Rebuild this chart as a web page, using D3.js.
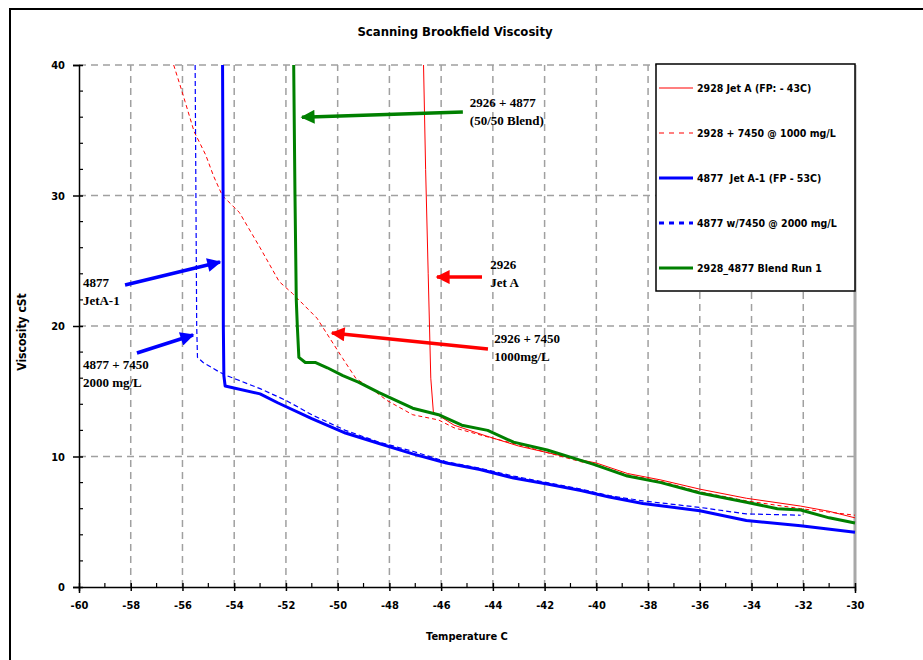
<!DOCTYPE html>
<html>
<head>
<meta charset="utf-8">
<script src="https://cdn.jsdelivr.net/npm/d3@7"></script>
<style>
  body { margin: 0; background: #fff; }
  svg text { font-family: "Liberation Sans Narrow", "Arial Narrow", "DejaVu Sans Condensed", sans-serif; font-weight: bold; }
  .note { font-family: "Liberation Serif", "Times New Roman", serif !important; font-size: 13px; }
  .lgtext { white-space: pre; }
</style>
</head>
<body>
<svg width="923" height="660"></svg>
<script>
// ---- data (temperature C, viscosity cSt) ----
var jetA_T = [-46.68, -46.6, -46.5, -46.4, -46.3, -45.5, -44.3, -43.0, -41.9, -41.0, -40.0, -38.8, -37.5, -36.0, -34.2, -32.1, -31.0, -30.0];
var jetA_V = [40, 32, 24, 16, 13.4, 12.4, 11.6, 10.8, 10.3, 9.9, 9.5, 8.7, 8.2, 7.5, 6.8, 6.2, 5.8, 5.3];

var jetA7450_T = [-56.34, -56.1, -55.9, -55.55, -55.1, -54.8, -54.46, -53.8, -53.0, -52.26, -51.75, -50.8, -49.8, -49.3, -48.5, -48.1, -47.1, -46.1, -45.5, -44.2, -43.0, -41.9, -40.6, -40.1, -38.8, -37.5, -36.0, -34.2, -32.1, -30.0];
var jetA7450_V = [40, 38.5, 37.2, 34.9, 33.1, 31.5, 30.0, 28.7, 26.0, 23.4, 22.5, 20.6, 17.5, 16.0, 14.9, 14.3, 13.2, 12.8, 12.2, 11.5, 10.9, 10.3, 9.6, 9.4, 8.6, 8.1, 7.3, 6.6, 6.0, 5.5];

var jetA1_T = [-54.45, -54.43, -54.42, -54.4, -54.35, -53.0, -52.3, -51.0, -49.7, -48.4, -47.1, -45.8, -44.5, -43.2, -41.9, -40.6, -39.5, -38.2, -36.0, -34.2, -32.1, -30.0];
var jetA1_V = [40, 30, 20, 16.2, 15.4, 14.8, 14.1, 12.9, 11.8, 11.0, 10.2, 9.5, 9.0, 8.35, 7.9, 7.4, 6.9, 6.4, 5.85, 5.1, 4.7, 4.2];

var jetA1_7450_T = [-55.51, -55.48, -55.45, -55.42, -55.2, -54.6, -54.3, -53.9, -53.0, -52.0, -51.0, -49.7, -48.4, -47.1, -45.8, -44.5, -43.2, -41.9, -40.6, -39.5, -38.2, -36.0, -34.2, -32.1];
var jetA1_7450_V = [40, 30, 20, 17.6, 17.2, 16.5, 16.2, 15.9, 15.2, 14.3, 13.2, 12.0, 11.1, 10.4, 9.6, 9.1, 8.5, 8.0, 7.5, 7.0, 6.6, 6.1, 5.6, 5.5];

var blend_T = [-51.7, -51.65, -51.6, -51.56, -51.5, -51.25, -50.85, -50.4, -49.8, -49.2, -48.4, -47.1, -46.1, -45.2, -44.2, -43.2, -41.9, -40.6, -40.1, -38.8, -37.5, -36.0, -34.2, -33.0, -32.1, -31.0, -30.0];
var blend_V = [40, 30, 22, 20, 17.6, 17.2, 17.2, 16.8, 16.2, 15.7, 14.9, 13.7, 13.2, 12.4, 12.0, 11.1, 10.5, 9.7, 9.4, 8.5, 8.0, 7.2, 6.5, 6.0, 5.9, 5.3, 4.9];

var xTicks = d3.range(-60, -29, 2);
var yTicks = [0, 10, 20, 30, 40];

var seriesNames = ["2928 Jet A (FP: - 43C)", "2928 + 7450 @ 1000 mg/L", "4877  Jet A-1 (FP - 53C)", "4877 w/7450 @ 2000 mg/L", "2928_4877 Blend Run 1"];
var seriesColors = ["#ff0000", "#ff0000", "#0000ff", "#0000ff", "#008000"];
var seriesWidths = [1, 1, 3, 1.2, 3];
var seriesDash = [null, "4,3", null, "5,3", null];

// annotation text and arrows (data units)
var noteLines = [["2926 + 4877", "(50/50 Blend)"], ["2926", "Jet A"], ["2926 + 7450", "1000mg/L"], ["4877", "JetA-1"], ["4877 + 7450", "2000 mg/L"]];
var noteAt = [[-44.89, 36.8], [-44.1, 24.4], [-43.95, 18.7], [-59.85, 23.0], [-59.85, 16.7]];
var arrowFrom = [[-45.16, 36.4], [-44.42, 23.75], [-44.19, 18.24], [-58.22, 23.14], [-57.76, 17.93]];
var arrowTo = [[-51.38, 36.0], [-46.16, 23.75], [-50.22, 19.46], [-54.55, 24.9], [-55.59, 19.31]];
var noteColors = ["#008000", "#ff0000", "#ff0000", "#0000ff", "#0000ff"];

var svg = d3.select("svg");
var x = d3.scaleLinear().domain([-60, -30]).range([79, 855]);
var y = d3.scaleLinear().domain([0, 40]).range([587, 65]);

// outer frame
svg.append("path").attr("d", "M10,660 V9 H923").attr("fill", "none").attr("stroke", "#000").attr("stroke-width", 2);

// title
svg.append("text").attr("x", 455).attr("y", 36).attr("text-anchor", "middle").style("font-size", "13px").text("Scanning Brookfield Viscosity");

// grid
var grid = svg.append("g").attr("stroke", "#a0a0a0").attr("stroke-width", 1.5).attr("stroke-dasharray", "7,5");
grid.selectAll(".vg").data(xTicks.slice(1, -1)).enter().append("line")
    .attr("x1", function(d) { return x(d); }).attr("x2", function(d) { return x(d); })
    .attr("y1", y(0)).attr("y2", y(40));
grid.selectAll(".hg").data(yTicks.slice(1)).enter().append("line")
    .attr("x1", x(-60)).attr("x2", x(-30))
    .attr("y1", function(d) { return y(d); }).attr("y2", function(d) { return y(d); });
svg.append("line").attr("x1", x(-30)).attr("x2", x(-30)).attr("y1", y(40)).attr("y2", y(0))
    .attr("stroke", "#a8a8a8").attr("stroke-width", 3);

// series
var allT = [jetA_T, jetA7450_T, jetA1_T, jetA1_7450_T, blend_T];
var allV = [jetA_V, jetA7450_V, jetA1_V, jetA1_7450_V, blend_V];
var line = d3.line().x(function(d) { return x(d[0]); }).y(function(d) { return y(d[1]); });
var order = [0, 1, 3, 4, 2];
order.forEach(function(i) {
  var pts = allT[i].map(function(t, k) { return [t, allV[i][k]]; });
  svg.append("path").datum(pts).attr("d", line)
    .attr("fill", "none").attr("stroke", seriesColors[i]).attr("stroke-width", seriesWidths[i])
    .attr("stroke-dasharray", seriesDash[i]).attr("stroke-linejoin", "round");
});

// axes
var xAxis = svg.append("g").attr("transform", "translate(0," + y(0) + ")")
    .call(d3.axisBottom(x).tickValues(xTicks).tickSize(6).tickFormat(function(d) { return String(d); }));
xAxis.select(".domain").attr("stroke-width", 1.5);
xAxis.selectAll(".tick line").attr("y1", -4).attr("y2", 4).attr("stroke-width", 1.5);
xAxis.selectAll(".tick text").attr("y", 14).style("font-size", "11px");
xAxis.selectAll(".minor").data(d3.range(-59, -30, 2)).enter().append("line")
    .attr("x1", function(d) { return x(d); }).attr("x2", function(d) { return x(d); })
    .attr("y1", 0).attr("y2", -4).attr("stroke", "#000").attr("stroke-width", 1.2);

var yAxis = svg.append("g").attr("transform", "translate(" + x(-60) + ",0)")
    .call(d3.axisLeft(y).tickValues(yTicks).tickSize(6));
yAxis.select(".domain").attr("stroke-width", 1.5);
yAxis.selectAll(".tick line").attr("x1", 4).attr("x2", -6).attr("stroke-width", 1.5);
yAxis.selectAll(".tick text").attr("x", -14).style("font-size", "11px");
yAxis.selectAll(".minor").data(d3.range(2, 40, 2).filter(function(d) { return d % 10; })).enter().append("line")
    .attr("y1", function(d) { return y(d); }).attr("y2", function(d) { return y(d); })
    .attr("x1", 0).attr("x2", 4).attr("stroke", "#000").attr("stroke-width", 1.2);

svg.append("text").attr("x", 467).attr("y", 640).attr("text-anchor", "middle").style("font-size", "11px").text("Temperature C");
svg.append("text").attr("transform", "translate(26,332) rotate(-90)").attr("text-anchor", "middle").style("font-size", "12px").text("Viscosity cSt");

// annotations
svg.append("defs").selectAll("marker").data(noteColors).enter().append("marker")
    .attr("id", function(d, i) { return "ah" + i; })
    .attr("viewBox", "0 0 10 10").attr("refX", 9).attr("refY", 5)
    .attr("markerWidth", 4.5).attr("markerHeight", 4).attr("orient", "auto").attr("markerUnits", "strokeWidth")
  .append("path").attr("d", "M0,0 L10,5 L0,10 Z").attr("fill", function(d) { return d; });

noteLines.forEach(function(lines, i) {
  svg.append("line")
    .attr("x1", x(arrowFrom[i][0])).attr("y1", y(arrowFrom[i][1]))
    .attr("x2", x(arrowTo[i][0])).attr("y2", y(arrowTo[i][1]))
    .attr("stroke", noteColors[i]).attr("stroke-width", 3.5)
    .attr("marker-end", "url(#ah" + i + ")");
  var t = svg.append("text").attr("class", "note")
    .attr("x", x(noteAt[i][0])).attr("y", y(noteAt[i][1]));
  lines.forEach(function(s, k) {
    t.append("tspan").attr("x", x(noteAt[i][0])).attr("dy", k ? 18 : 0).text(s);
  });
});

// legend
var lg = svg.append("g").attr("transform", "translate(656,64)");
lg.append("clipPath").attr("id", "lgclip").append("rect").attr("width", 199).attr("height", 227);
lg.append("rect").attr("width", 199).attr("height", 227).attr("fill", "#fff").attr("stroke", "#000").attr("stroke-width", 1.5);
var items = lg.append("g").attr("clip-path", "url(#lgclip)");
var item = items.selectAll(".item").data(seriesNames).enter().append("g")
    .attr("transform", function(d, i) { return "translate(0," + (24 + i * 45) + ")"; });
item.append("line").attr("x1", 3).attr("x2", 37)
    .attr("stroke", function(d, i) { return seriesColors[i]; })
    .attr("stroke-width", function(d, i) { return seriesWidths[i] === 1 ? 1.2 : 3; })
    .attr("stroke-dasharray", function(d, i) { return seriesDash[i] ? "5,5" : null; });
item.append("text").attr("class", "lgtext").attr("x", 41).attr("y", 4).style("font-size", "10.5px").text(function(d) { return d; });
</script>
</body>
</html>
